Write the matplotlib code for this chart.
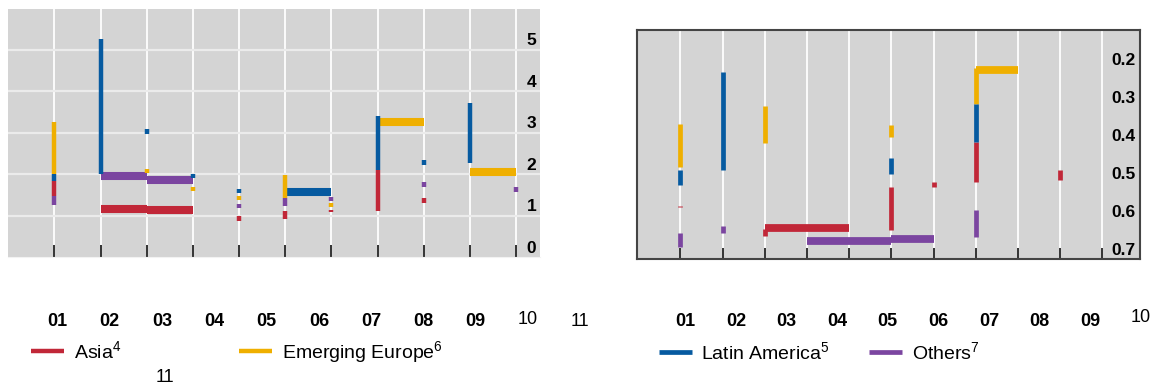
import matplotlib
matplotlib.use("Agg")
import matplotlib.pyplot as plt
import numpy as np

plt.rcParams["font.family"] = ["Liberation Sans", "DejaVu Sans"]
plt.rcParams["mathtext.default"] = "regular"

# series colours
RED, YELLOW, BLUE, PURPLE = "#c12738", "#efaf00", "#065aa0", "#7b45a0"
GREY = "#d4d4d4"

years = ["01", "02", "03", "04", "05", "06", "07", "08", "09", "10", "11"]
names = ["Asia$^{4}$", "Emerging Europe$^{6}$", "Latin America$^{5}$", "Others$^{7}$"]

# ---- left panel: vertical ranges (year index, low, high) and flat steps (year index, level)
l_asia_x, l_asia_lo, l_asia_hi = [0, 4, 5, 6, 7, 8], [1.23, 0.63, 0.68, 0.84, 0.87, 1.06], [1.58, 0.74, 0.87, 0.90, 1.85, 1.18]
l_asia_step_x, l_asia_step_y = [1, 2], [0.91, 0.88]

l_eur_x, l_eur_lo, l_eur_hi = [0, 2, 3, 4, 5, 6], [1.75, 1.77, 1.35, 1.13, 1.18, 0.95], [3.00, 1.87, 1.45, 1.22, 1.73, 1.06]
l_eur_step_x, l_eur_step_y = [7, 9], [3.02, 1.80]

l_lat_x = [0, 1, 2, 3, 4, 7, 8, 9]
l_lat_lo = [1.58, 1.75, 2.73, 1.66, 1.30, 1.85, 1.97, 2.02]
l_lat_hi = [1.75, 5.00, 2.83, 1.75, 1.39, 3.15, 2.09, 3.47]
l_lat_step_x, l_lat_step_y = [5], [1.33]

l_oth_x, l_oth_lo, l_oth_hi = [0, 4, 5, 6, 8, 10], [1.01, 0.93, 0.98, 1.10, 1.45, 1.33], [1.23, 1.03, 1.18, 1.20, 1.57, 1.45]
l_oth_step_x, l_oth_step_y = [1, 2], [1.70, 1.60]

# ---- right panel
r_asia_x, r_asia_lo, r_asia_hi = [0, 2, 5, 6, 7, 9], [0.586, 0.647, 0.537, 0.522, 0.417, 0.491], [0.588, 0.665, 0.649, 0.537, 0.522, 0.518]
r_asia_step_x, r_asia_step_y = [2, 3], [0.643, 0.645]

r_eur_x, r_eur_lo, r_eur_hi = [0, 2, 5, 7], [0.370, 0.323, 0.374, 0.224], [0.484, 0.421, 0.405, 0.318]
r_eur_step_x, r_eur_step_y = [7], [0.227]

r_lat_x, r_lat_lo, r_lat_hi = [0, 1, 5, 7], [0.491, 0.233, 0.461, 0.318], [0.531, 0.491, 0.503, 0.417]
r_lat_step_x, r_lat_step_y = [], []

r_oth_x, r_oth_lo, r_oth_hi = [0, 1, 7], [0.658, 0.639, 0.597], [0.693, 0.658, 0.667]
r_oth_step_x, r_oth_step_y = [3, 4, 5], [0.678, 0.678, 0.672]

left_yticks = [0, 1, 2, 3, 4, 5]
right_yticks = [0.2, 0.3, 0.4, 0.5, 0.6, 0.7]

W, H = 1159, 388
fig = plt.figure(figsize=(W / 100, H / 100), dpi=100)


def px_axes(x0, y0, x1, y1):
    return fig.add_axes([x0 / W, 1 - y1 / H, (x1 - x0) / W, (y1 - y0) / H])


def draw_series(ax, xs, lo, hi, sx, sy, color, vw, hw):
    sx = np.asarray(sx, dtype=float)
    ax.hlines(sy, sx, sx + 1, colors=color, lw=hw, zorder=3)
    return ax.vlines(xs, lo, hi, colors=color, lw=vw, zorder=4)


def style_axes(ax, tick_len, pad):
    ax.set_facecolor(GREY)
    ax.set_xticks(range(11))
    ax.grid(axis="x", color="white", lw=1.3)
    ax.set_axisbelow(True)
    ax.tick_params(axis="x", direction="in", length=tick_len, width=1.4,
                   color="#333333", labelbottom=False)
    ax.yaxis.tick_right()
    ax.tick_params(axis="y", length=0, pad=pad, labelsize=12.5)
    for lab in ax.get_yticklabels():
        lab.set_fontweight("bold")


# left panel
ax1 = px_axes(8.3, 9, 540, 257.3)
ax1.set_xlim(-1.0, 10.52)
ax1.set_ylim(-0.25, 5.73)
ax1.set_yticks(left_yticks)
ax1.set_yticklabels([str(v) for v in left_yticks])
style_axes(ax1, 8.5, -9.6)
for s in ax1.spines.values():
    s.set_visible(False)
ax1.spines["bottom"].set_visible(True)
ax1.spines["bottom"].set_color("#f2f2f2")
for y in np.arange(0.75, 5, 1):
    ax1.axhline(y, color="#ebebeb", lw=1.6, zorder=1)

h1 = [
    draw_series(ax1, l_asia_x, l_asia_lo, l_asia_hi, l_asia_step_x, l_asia_step_y, RED, 3.2, 5.8),
    draw_series(ax1, l_eur_x, l_eur_lo, l_eur_hi, l_eur_step_x, l_eur_step_y, YELLOW, 3.2, 5.8),
    draw_series(ax1, l_lat_x, l_lat_lo, l_lat_hi, l_lat_step_x, l_lat_step_y, BLUE, 3.2, 5.8),
    draw_series(ax1, l_oth_x, l_oth_lo, l_oth_hi, l_oth_step_x, l_oth_step_y, PURPLE, 3.2, 5.8),
]

# right panel
ax2 = px_axes(637.3, 30, 1140, 259)
ax2.set_xlim(-1.02, 10.89)
ax2.set_ylim(0.7255, 0.123)
ax2.set_yticks(right_yticks)
ax2.set_yticklabels([f"{v:.1f}" for v in right_yticks])
style_axes(ax2, 7.7, -20.4)
for s in ax2.spines.values():
    s.set_color("#444444")
    s.set_linewidth(1.5)

h2 = [
    draw_series(ax2, r_asia_x, r_asia_lo, r_asia_hi, r_asia_step_x, r_asia_step_y, RED, 3.4, 5.6),
    draw_series(ax2, r_eur_x, r_eur_lo, r_eur_hi, r_eur_step_x, r_eur_step_y, YELLOW, 3.4, 5.6),
    draw_series(ax2, r_lat_x, r_lat_lo, r_lat_hi, r_lat_step_x, r_lat_step_y, BLUE, 3.4, 5.6),
    draw_series(ax2, r_oth_x, r_oth_lo, r_oth_hi, r_oth_step_x, r_oth_step_y, PURPLE, 3.4, 5.6),
]

# year labels under each panel
for i, yr in enumerate(years):
    bold = yr not in ("10", "11")
    fig.text((57.4 + 52.3 * i) / W, 1 - (319 if yr == "10" else 321) / H, yr,
             ha="center", va="center", fontsize=13,
             fontweight="bold" if bold else "normal")
fig.text(165 / W, 1 - 378 / H, years[-1], ha="center", va="center", fontsize=13)
for i, yr in enumerate(years[:10]):
    bold = yr != "10"
    fig.text((685.3 + 50.6 * i) / W, 1 - (318 if yr == "10" else 321) / H, yr,
             ha="center", va="center", fontsize=13,
             fontweight="bold" if bold else "normal")

leg_kw = dict(loc="center left", frameon=False, fontsize=14, borderpad=0,
              borderaxespad=0, handlelength=1.7, handletextpad=0.51, ncol=2)
fig.legend([h1[0], h1[1]], names[:2], bbox_to_anchor=(30.6 / W, 1 - 352 / H),
           columnspacing=6.1, **leg_kw)
fig.legend([h2[2], h2[3]], names[2:], bbox_to_anchor=(658.5 / W, 1 - 352 / H),
           columnspacing=2.0, **leg_kw)

fig.savefig("out.png", dpi=100)
